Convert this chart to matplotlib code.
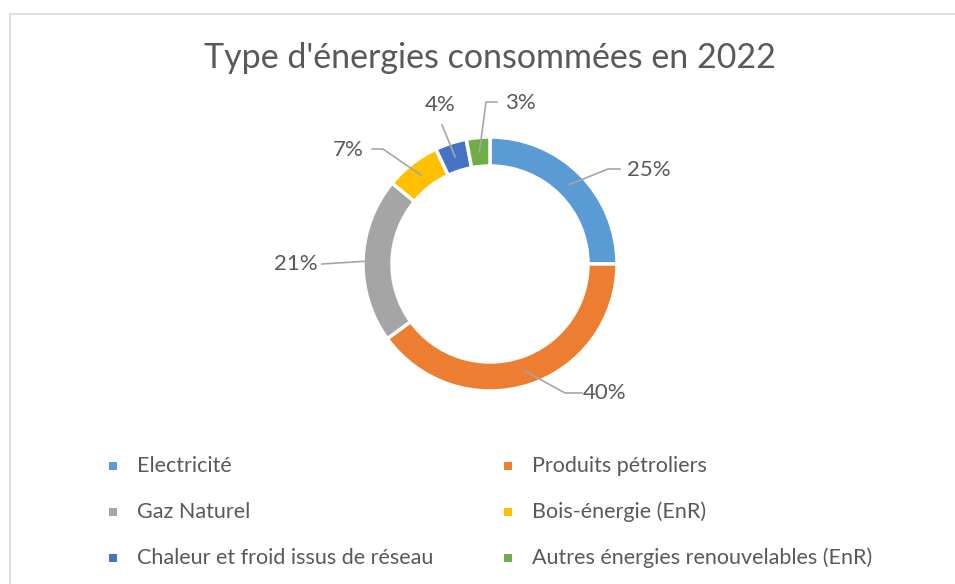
import matplotlib
matplotlib.use("Agg")
import matplotlib.pyplot as plt
from matplotlib.patches import Rectangle
import numpy as np

categories = ["Electricité", "Produits pétroliers", "Gaz Naturel", "Bois-énergie (EnR)",
              "Chaleur et froid issus de réseau", "Autres énergies renouvelables (EnR)"]
values = [25, 40, 21, 7, 4, 3]
colors = ["#5B9BD5", "#ED7D31", "#A5A5A5", "#FFC000", "#4472C4", "#70AD47"]
title = "Type d'énergies consommées en 2022"

W, H = 955, 584
FONT = "Lato"
TXT = "#595959"

fig = plt.figure(figsize=(W / 100, H / 100), dpi=100)
ax = fig.add_axes([0, 0, 1, 1])

def Y(y):
    return H - y

cx, cy, R, ring = 490, 264, 127, 29
wedges, _ = ax.pie(values, colors=colors, startangle=90, counterclock=False,
                   center=(cx, Y(cy)), radius=R, frame=True,
                   wedgeprops=dict(width=ring, edgecolor="white", linewidth=2.5))
ax.set_xlim(0, W)
ax.set_ylim(0, H)
ax.set_aspect("equal")
ax.axis("off")

# chart border
ax.add_patch(Rectangle((10, Y(600)), 1000, 600 - 14, fill=False, edgecolor="#D9D9D9", lw=1.2))

ax.text(490, Y(58), title, ha="center", va="center", fontsize=24.5, color=TXT, family=FONT)

# data labels with leader lines (label positions / elbow points in pixels)
label_layout = [
    dict(text=(649, 170), path=[(608, 169), (620, 169)]),
    dict(text=(605, 393), path=[(565, 393), (582, 393)]),
    dict(text=(296, 264), path=[(322, 264)]),
    dict(text=(348, 150), path=[(383, 149), (372, 149)]),
    dict(text=(440, 105), path=[(442, 125)]),
    dict(text=(520, 103), path=[(486, 102), (497, 102)]),
]
total = sum(values)
start = 90.0
rmid = R - ring / 2
for v, lay in zip(values, label_layout):
    ang = start - 360 * v / total / 2
    start -= 360 * v / total
    px = cx + rmid * np.cos(np.radians(ang))
    py = cy - rmid * np.sin(np.radians(ang))
    pts = [(px, py)] + lay["path"]
    ax.plot([p[0] for p in pts], [Y(p[1]) for p in pts], color="#A6A6A6", lw=1.2)
    tx, ty = lay["text"]
    ax.text(tx, Y(ty), f"{v}%", ha="center", va="center", fontsize=16, color=TXT, family=FONT)

# legend (row-major, 2 columns)
legend_pos = [(113, 466), (508, 466), (113, 512), (508, 512), (113, 558), (508, 558)]
for i, (lx, ly) in enumerate(legend_pos):
    ax.add_patch(Rectangle((lx - 4, Y(ly) - 4), 8, 8, color=colors[i], lw=0))
    ax.text(lx + 24, Y(ly), categories[i], ha="left", va="center", fontsize=15.5,
            color=TXT, family=FONT)

fig.savefig("out.png", dpi=100)
